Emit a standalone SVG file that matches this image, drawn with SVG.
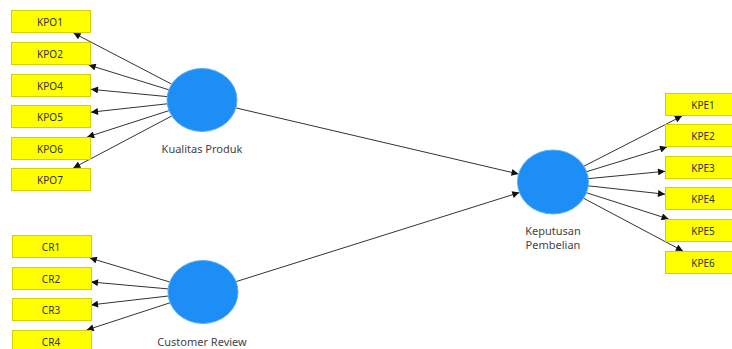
<svg xmlns="http://www.w3.org/2000/svg" width="732" height="349" viewBox="0 0 732 349">
<defs>
<marker id="arr" viewBox="0 0 10 10" refX="10" refY="5" markerWidth="8" markerHeight="7" markerUnits="userSpaceOnUse" orient="auto">
<path d="M0,0 L10,5 L0,10 z" fill="#111"/>
</marker>
<style>
.ind rect{fill:#ffff00;stroke:#d2d200;stroke-width:1}
.ind text{font-family:"Noto Sans","Open Sans",sans-serif;font-size:10px;fill:#333;text-anchor:middle}
.lv ellipse{fill:#1c8ef5;stroke:#5aaef5;stroke-width:1}
.lv text{font-family:"Noto Sans","Open Sans",sans-serif;font-size:11px;fill:#444;text-anchor:middle}
#connectors line{stroke:#333;stroke-width:1;marker-end:url(#arr)}
</style>
</defs>
<rect width="732" height="349" fill="#fff"/>
<g id="connectors">
<line x1="171.6" y1="84.1" x2="73.5" y2="33"/>
<line x1="168.8" y1="89.8" x2="88.7" y2="65"/>
<line x1="167.2" y1="96.6" x2="91" y2="89.3"/>
<line x1="167.3" y1="103.8" x2="91" y2="112.2"/>
<line x1="169" y1="110.6" x2="87.2" y2="137"/>
<line x1="171.7" y1="116" x2="73.3" y2="168"/>
<line x1="169.8" y1="282" x2="89.8" y2="258"/>
<line x1="168.2" y1="288.9" x2="91" y2="282"/>
<line x1="168.3" y1="296" x2="91" y2="304.9"/>
<line x1="170" y1="302.8" x2="86.7" y2="330"/>
<line x1="235.9" y1="107.9" x2="518.5" y2="174"/>
<line x1="236.1" y1="281.6" x2="519.3" y2="192.6"/>
<line x1="583.5" y1="166.4" x2="682" y2="116"/>
<line x1="586.2" y1="171.8" x2="667" y2="147"/>
<line x1="587.8" y1="178.7" x2="665" y2="171.3"/>
<line x1="587.8" y1="185.8" x2="665" y2="194.2"/>
<line x1="586" y1="192.6" x2="668.6" y2="219"/>
<line x1="583.3" y1="198.1" x2="682.9" y2="251"/>
</g>
<g id="KPO1" class="ind"><rect x="11.5" y="10.5" width="79" height="22"/><text x="50" y="25.5">KPO1</text></g>
<g id="KPO2" class="ind"><rect x="11.5" y="42.5" width="79" height="22"/><text x="50" y="57.5">KPO2</text></g>
<g id="KPO4" class="ind"><rect x="11.5" y="74.5" width="79" height="22"/><text x="50" y="89.5">KPO4</text></g>
<g id="KPO5" class="ind"><rect x="11.5" y="105.5" width="79" height="22"/><text x="50" y="120.5">KPO5</text></g>
<g id="KPO6" class="ind"><rect x="11.5" y="137.5" width="79" height="22"/><text x="50" y="152.5">KPO6</text></g>
<g id="KPO7" class="ind"><rect x="11.5" y="168.5" width="79" height="22"/><text x="50" y="183.5">KPO7</text></g>
<g id="CR1" class="ind"><rect x="12.5" y="235.5" width="79" height="22"/><text x="51" y="250.5">CR1</text></g>
<g id="CR2" class="ind"><rect x="12.5" y="267.5" width="79" height="22"/><text x="51" y="282.5">CR2</text></g>
<g id="CR3" class="ind"><rect x="12.5" y="298.5" width="79" height="22"/><text x="51" y="313.5">CR3</text></g>
<g id="CR4" class="ind"><rect x="12.5" y="330.5" width="79" height="22"/><text x="51" y="345.5">CR4</text></g>
<g id="KPE1" class="ind"><rect x="665.5" y="93.5" width="78" height="22"/><text x="703" y="108.5">KPE1</text></g>
<g id="KPE2" class="ind"><rect x="665.5" y="124.5" width="78" height="22"/><text x="703" y="139.5">KPE2</text></g>
<g id="KPE3" class="ind"><rect x="665.5" y="156.5" width="78" height="22"/><text x="703" y="171.5">KPE3</text></g>
<g id="KPE4" class="ind"><rect x="665.5" y="187.5" width="78" height="22"/><text x="703" y="202.5">KPE4</text></g>
<g id="KPE5" class="ind"><rect x="665.5" y="219.5" width="78" height="22"/><text x="703" y="234.5">KPE5</text></g>
<g id="KPE6" class="ind"><rect x="665.5" y="251.5" width="78" height="22"/><text x="703" y="266.5">KPE6</text></g>
<g id="KualitasProduk" class="lv"><ellipse cx="202" cy="100" rx="35" ry="31.5"/><text x="202" y="153">Kualitas Produk</text></g>
<g id="CustomerReview" class="lv"><ellipse cx="203" cy="292" rx="35" ry="31.5"/><text x="202" y="346">Customer Review</text></g>
<g id="KeputusanPembelian" class="lv"><ellipse cx="553" cy="182" rx="35.5" ry="32"/><text x="553" y="235">Keputusan</text><text x="553" y="249">Pembelian</text></g>
</svg>
